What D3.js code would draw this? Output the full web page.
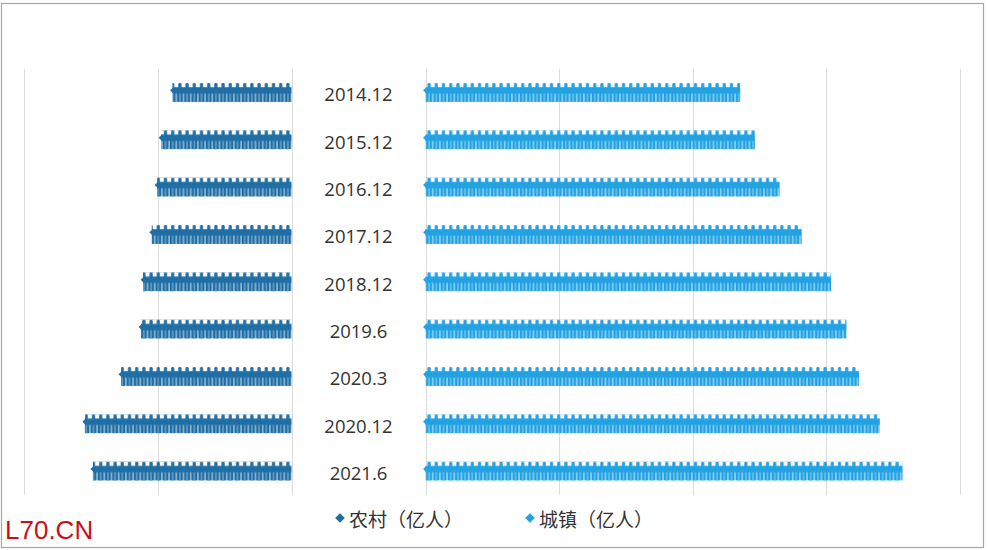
<!DOCTYPE html>
<html>
<head>
<meta charset="utf-8">
<script src="https://cdn.jsdelivr.net/npm/d3@7"></script>
<style>
  html, body { margin: 0; padding: 0; background: #fff; }
  svg { display: block; }
</style>
</head>
<body>
<div id="chart"></div>
<script>
/* =========================
   DATA
   ========================= */

const categories = ["2014.12", "2015.12", "2016.12", "2017.12", "2018.12", "2019.6", "2020.3", "2020.12", "2021.6"];
const rural = [1.78, 1.95, 2.01, 2.09, 2.22, 2.25, 2.55, 3.09, 2.97];   // 农村（亿人）
const urban = [4.71, 4.93, 5.30, 5.63, 6.07, 6.30, 6.49, 6.80, 7.14];   // 城镇（亿人）
const leftTicks = [0, 2, 4];
const rightTicks = [0, 2, 4, 6, 8];
const legendNames = ["农村（亿人）", "城镇（亿人）"];

/* =========================
   CONFIG
   ========================= */

const WIDTH = 988;
const HEIGHT = 550;
const RURAL_COLOR = "#1f6ea5";
const URBAN_COLOR = "#22a2e2";
const ICON_W = 7.2;
const BAR_H = 19;

const svg = d3.select("#chart").append("svg")
  .attr("width", WIDTH)
  .attr("height", HEIGHT);

// frame
svg.append("rect")
  .attr("x", 1.5).attr("y", 3.5)
  .attr("width", 982).attr("height", 544)
  .attr("fill", "#fff")
  .attr("stroke", "#a6a6a6")
  .attr("stroke-width", 1.2);

/* =========================
   SCALES
   ========================= */

const xL = d3.scaleLinear().domain([0, 4]).range([291.5, 24]);
const xR = d3.scaleLinear().domain([0, 8]).range([425.5, 960]);
const y = d3.scaleBand().domain(categories).range([68.8, 494.8]);

// gridlines
const grid = svg.append("g").attr("class", "grid");
grid.selectAll(".gl").data(leftTicks).enter().append("line")
  .attr("x1", d => Math.round(xL(d)) + 0.5).attr("x2", d => Math.round(xL(d)) + 0.5)
  .attr("y1", y.range()[0]).attr("y2", y.range()[1])
  .attr("stroke", "#dcdcdc");
grid.selectAll(".gr").data(rightTicks).enter().append("line")
  .attr("x1", d => Math.round(xR(d)) + 0.5).attr("x2", d => Math.round(xR(d)) + 0.5)
  .attr("y1", y.range()[0]).attr("y2", y.range()[1])
  .attr("stroke", "#dcdcdc");

/* =========================
   ICON PATTERNS (people holding hands)
   ========================= */

const defs = svg.append("defs");

function makePattern(id, color, originX) {
  const p = defs.append("pattern")
    .attr("id", id)
    .attr("patternUnits", "userSpaceOnUse")
    .attr("x", originX).attr("y", 0)
    .attr("width", ICON_W).attr("height", BAR_H);
  // head
  p.append("rect").attr("x", ICON_W / 2 - 1.6).attr("y", 0)
    .attr("width", 3.2).attr("height", 5.5).attr("rx", 1.4).attr("fill", color);
  // arms band
  p.append("rect").attr("x", 0).attr("y", 4.2)
    .attr("width", ICON_W).attr("height", 6.4).attr("fill", color);
  // legs
  p.append("rect").attr("x", 0.4).attr("y", 9).attr("width", 2.95).attr("height", 10)
    .attr("rx", 0.5).attr("fill", color);
  p.append("rect").attr("x", ICON_W - 3.35).attr("y", 9).attr("width", 2.95).attr("height", 10)
    .attr("rx", 0.5).attr("fill", color);
}

makePattern("pRural", RURAL_COLOR, xL(0));
makePattern("pUrban", URBAN_COLOR, xR(0));

/* =========================
   BARS
   ========================= */

const rows = svg.append("g").selectAll(".row")
  .data(categories)
  .enter().append("g")
  .attr("class", "row")
  .attr("transform", d => `translate(0, ${y(d) + y.bandwidth() / 2 - BAR_H / 2})`);

rows.append("rect")
  .attr("x", (d, i) => xL(rural[i]))
  .attr("y", 0)
  .attr("width", (d, i) => xL(0) - xL(rural[i]))
  .attr("height", BAR_H)
  .attr("fill", "url(#pRural)");

rows.append("rect")
  .attr("x", xR(0))
  .attr("y", 0)
  .attr("width", (d, i) => xR(urban[i]) - xR(0))
  .attr("height", BAR_H)
  .attr("fill", "url(#pUrban)");

// small pointed tips on the arm band
rows.append("path")
  .attr("d", (d, i) => {
    const x = xL(rural[i]);
    return `M${x + 1},4.2 L${x - 2.5},7.4 L${x + 1},10.6 Z`;
  })
  .attr("fill", RURAL_COLOR);
rows.append("path")
  .attr("d", () => {
    const x = xR(0);
    return `M${x + 1},4.2 L${x - 2.5},7.4 L${x + 1},10.6 Z`;
  })
  .attr("fill", URBAN_COLOR);

// category labels
svg.append("g").selectAll("text")
  .data(categories)
  .enter().append("text")
  .attr("x", (xL(0) + xR(0)) / 2)
  .attr("y", d => y(d) + y.bandwidth() / 2 + 1.5)
  .attr("text-anchor", "middle")
  .attr("dominant-baseline", "central")
  .attr("font-family", "'Open Sans', 'Noto Sans', sans-serif")
  .attr("font-size", 18.5)
  .attr("fill", "#333")
  .text(d => d);

/* =========================
   LEGEND
   ========================= */

const legendX = [340, 530];
const legendColors = [RURAL_COLOR, URBAN_COLOR];
const legend = svg.append("g").selectAll(".lg")
  .data(legendNames)
  .enter().append("g")
  .attr("transform", (d, i) => `translate(${legendX[i]}, 518)`);

legend.append("path")
  .attr("d", "M0,-4.8 L4.8,0 L0,4.8 L-4.8,0 Z")
  .attr("fill", (d, i) => legendColors[i]);

legend.append("text")
  .attr("x", 9)
  .attr("dominant-baseline", "central")
  .attr("font-family", "'Noto Sans CJK SC', sans-serif")
  .attr("font-size", 19)
  .attr("fill", "#333")
  .text(d => d);

// watermark
svg.append("text")
  .attr("x", 5).attr("y", 539)
  .attr("font-family", "'Liberation Sans', Arial, sans-serif")
  .attr("font-size", 26)
  .attr("fill", "#c9101a")
  .text("L70.CN");
</script>
</body>
</html>
